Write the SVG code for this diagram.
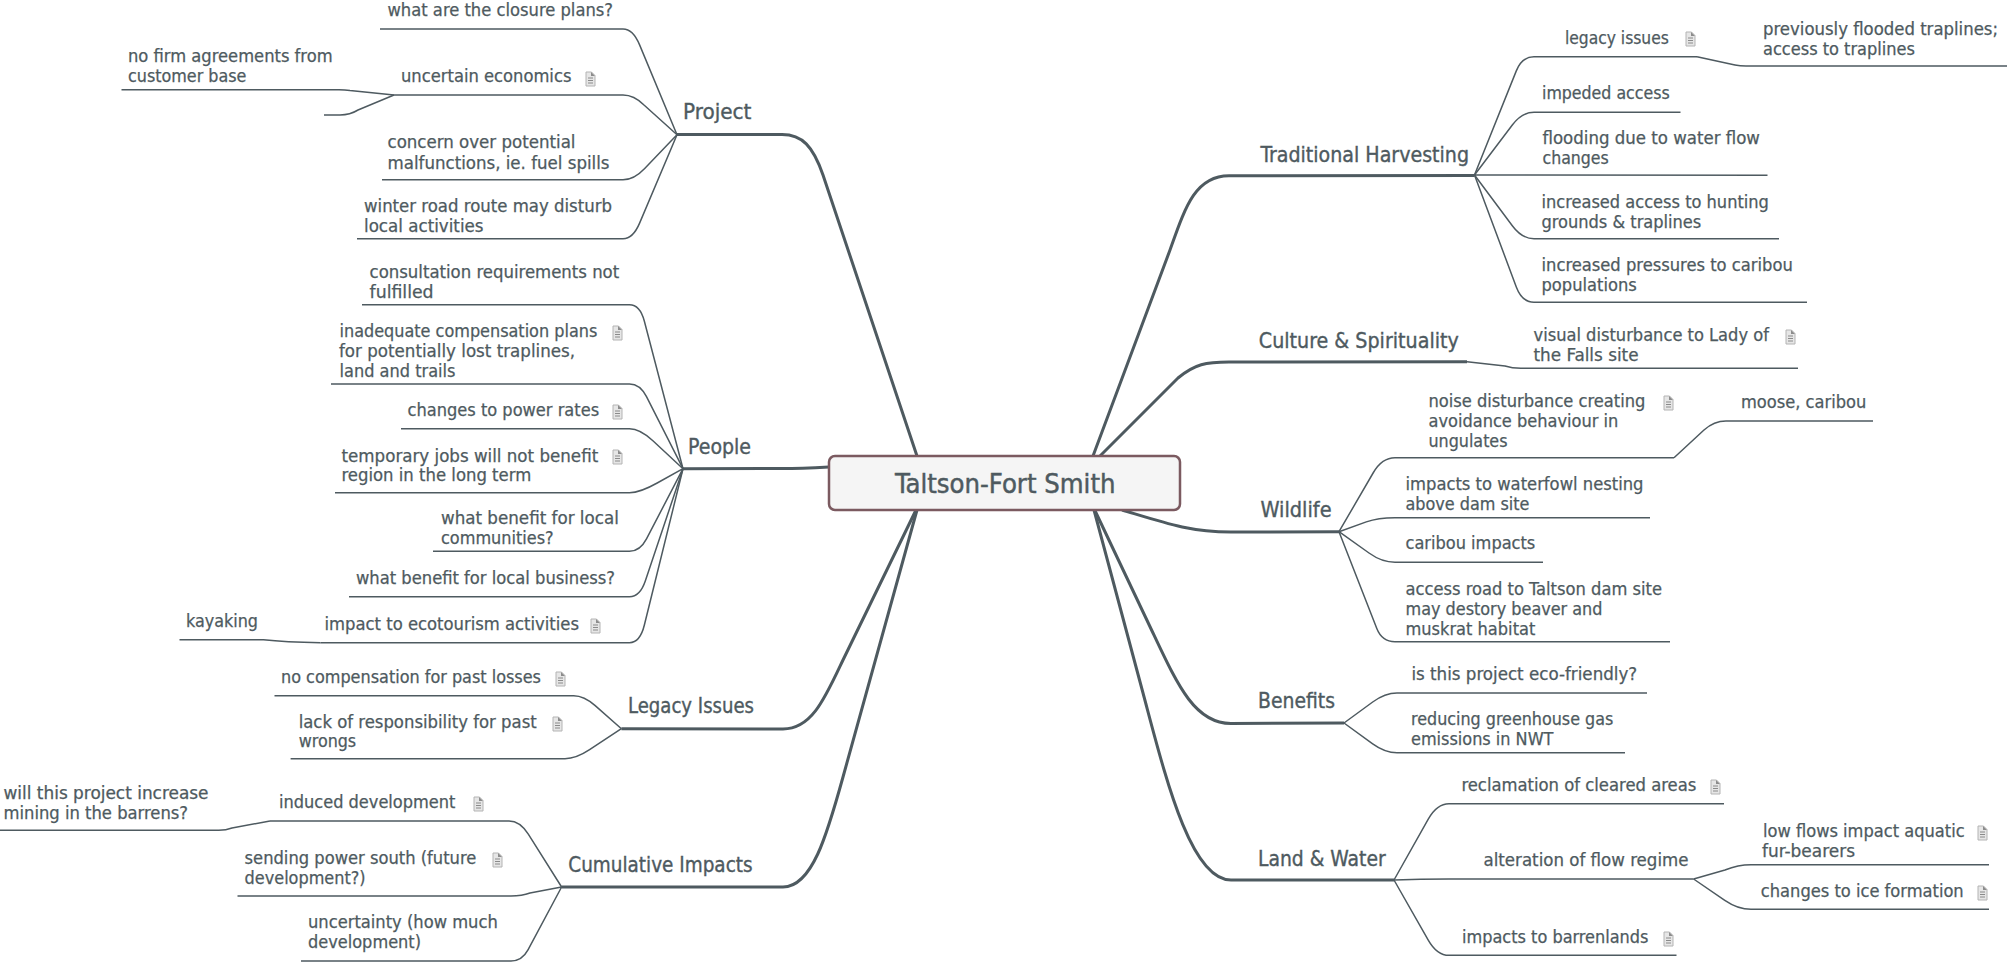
<svg xmlns="http://www.w3.org/2000/svg" width="2007" height="964" viewBox="0 0 2007 964">
<style>
text{font-family:"DejaVu Sans Condensed","DejaVu Sans",sans-serif;font-stretch:condensed;fill:#4e5a60;stroke:#4e5a60;stroke-width:.25}
.t{font-size:18px}
.b{font-size:21px;stroke-width:.35}
.c{font-size:27px;stroke-width:.45}
#connectors path{fill:none;stroke:#4e5a60;stroke-width:1.5;stroke-linejoin:round}
#connectors path.k{stroke-width:3}
</style>
<defs>
<g id="note"><path d="M1 1H6.500L10 4.500V15H1Z" fill="#e6e6e6" stroke="#b4b4b4" stroke-width="1"/><path d="M6 1V5H10" fill="#8c8c8c"/><path d="M3 7H8M3 9.500H8M3 12H8" stroke="#8a8a8a" stroke-width="1"/></g>
</defs>
<rect width="2007" height="964" fill="#ffffff"/>
<g id="connectors">
<path class="k" d="M917 456L823 175C813 146 802 134.500 782 134.500L677 134.500"/>
<path class="k" d="M829 467Q800 468.500 782 468.500L683 468.700"/>
<path class="k" d="M916 510L843 660C825 698 812 729 783 729L621.400 728.700"/>
<path class="k" d="M917 510L843 777C827 835 812 887 783 887L561.600 887"/>
<path class="k" d="M1093 456L1170 250C1185 208 1195 175.700 1229 175.700L1474.500 175.500"/>
<path class="k" d="M1100 456L1178 378C1195 364 1206 362 1229 362L1467 361.700"/>
<path class="k" d="M1122 510C1165 523 1190 532 1231 532L1339 531.700"/>
<path class="k" d="M1094.700 510L1153 633C1178 686 1195 723.500 1231 723.500L1344 723"/>
<path class="k" d="M1094 510L1143 693C1165 775 1190 880 1231 880L1394 880"/>
<path d="M677 134.700L639.600 44.900Q633 29 623 29L380 29"/>
<path d="M677 134.700L644 105Q634 95 623 95L394 95"/>
<path d="M677 134.700L644.700 168.400Q634 179.700 623 179.700L382 179.700"/>
<path d="M677 134.700L639.600 223.100Q633 238.700 623 238.700L357 238.700"/>
<path d="M394 95L350 90.500Q345 89.700 339 89.700L121.500 89.700"/>
<path d="M394 95L358 110Q350 115 340 115L324 115"/>
<path d="M683 468.700L644.300 321Q640 304.700 629.500 304.700L362 304.700"/>
<path d="M683 468.700L646.500 396.700Q640 384 629.500 384L331 384"/>
<path d="M683 468.700L652.900 440.700Q640 428.700 629.500 428.700L401 428.700"/>
<path d="M683 468.700L657.200 483Q640 492.700 629.500 492.700L335 492.700"/>
<path d="M683 468.700L646.500 538.900Q640 551.300 629.500 551.300L433 551.300"/>
<path d="M683 468.700L645.200 581.300Q640 596.700 629.500 596.700L349 596.700"/>
<path d="M683 468.700L644.300 625.300Q640 642.700 629.500 642.700L320.500 642.700"/>
<path d="M320.500 642.700Q285 642 263.400 639.700L179.500 639.700"/>
<path d="M621.400 728.700L595.200 705.600Q584 695.700 573.700 695.700L274.500 695.700"/>
<path d="M621.400 728.700L589.600 749.700Q576 758.700 565 758.700L290.600 758.700"/>
<path d="M561.600 887L528.300 834.200Q520 821 509 821L270 821"/>
<path d="M270 821L232 828Q226 830.300 218.800 830.300L0 830.300"/>
<path d="M561.600 887L530 893Q522 896 511 896L237.500 896"/>
<path d="M561.600 887L528 949.900Q522 961 511 961L301 961"/>
<path d="M1474.500 175L1516.300 70.900Q1522 56.700 1534 56.700L1697 56.700"/>
<path d="M1697 56.700L1735 65Q1740 66 1746 66L2007 66"/>
<path d="M1474.500 175L1512.500 124.800Q1522 112.300 1534 112.300L1680.500 112.300"/>
<path d="M1474.500 175L1767.500 175.300"/>
<path d="M1474.500 175L1512.500 226Q1522 238.700 1534 238.700L1779 238.700"/>
<path d="M1474.500 175L1516.300 287Q1522 302.300 1534 302.300L1807 302.300"/>
<path d="M1467 361.700L1505 366Q1512 368.300 1521 368.300L1798 368.300"/>
<path d="M1339 531.700L1373.400 472.500Q1382 457.700 1395 457.700L1674 457.700"/>
<path d="M1674 457.700L1704 430Q1714 421 1726 421L1873 421"/>
<path d="M1339 531.700L1366.300 521.900Q1378 517.700 1395 517.700L1650 517.700"/>
<path d="M1339 531.700L1369 553Q1382 562.300 1395 562.300L1543 562.300"/>
<path d="M1339 531.700L1376.800 628.500Q1382 641.700 1395 641.700L1670 641.700"/>
<path d="M1344 723L1372.700 702Q1385 693 1397 693L1647 693"/>
<path d="M1344 723L1372.700 743.800Q1385 752.700 1397 752.700L1625 752.700"/>
<path d="M1394 880L1428.400 818.900Q1437 803.700 1449 803.700L1724 803.700"/>
<path d="M1394 880Q1420 879 1449 879L1693.600 879"/>
<path d="M1394 880L1428.400 940.300Q1437 955.300 1449 955.300L1676.500 955.300"/>
<path d="M1693.600 879L1725 870Q1738 864.700 1751 864.700L1989 864.700"/>
<path d="M1693.600 879L1724.800 900.300Q1738 909.300 1751 909.300L1989 909.300"/>
</g>
<g id="root">
<rect x="829" y="456" width="351" height="54" rx="6" fill="#f5f5f5" stroke="#7b5a60" stroke-width="2.500"/>
<text class="c" x="895" y="492.500" textLength="220.500" lengthAdjust="spacingAndGlyphs">Taltson-Fort Smith</text>
</g>
<g id="project"><text class="b" x="683" y="119.300" textLength="68.400" lengthAdjust="spacingAndGlyphs">Project</text></g>
<g id="people"><text class="b" x="688" y="454" textLength="63" lengthAdjust="spacingAndGlyphs">People</text></g>
<g id="legacy-issues"><text class="b" x="628" y="713.300" textLength="126" lengthAdjust="spacingAndGlyphs">Legacy Issues</text></g>
<g id="cumulative-impacts"><text class="b" x="568.300" y="872.300" textLength="184.300" lengthAdjust="spacingAndGlyphs">Cumulative Impacts</text></g>
<g id="traditional-harvesting"><text class="b" x="1260.400" y="161.700" textLength="208.600" lengthAdjust="spacingAndGlyphs">Traditional Harvesting</text></g>
<g id="culture-spirituality"><text class="b" x="1258.800" y="347.700" textLength="200" lengthAdjust="spacingAndGlyphs">Culture &amp; Spirituality</text></g>
<g id="wildlife"><text class="b" x="1260.400" y="516.700" textLength="71.200" lengthAdjust="spacingAndGlyphs">Wildlife</text></g>
<g id="benefits"><text class="b" x="1258" y="708.300" textLength="77" lengthAdjust="spacingAndGlyphs">Benefits</text></g>
<g id="land-water"><text class="b" x="1258" y="865.700" textLength="127.700" lengthAdjust="spacingAndGlyphs">Land &amp; Water</text></g>
<g id="n1"><text class="t" x="387.500" y="16" textLength="225.500" lengthAdjust="spacingAndGlyphs">what are the closure plans?</text></g>
<g id="n2"><text class="t" x="401" y="82" textLength="170.400" lengthAdjust="spacingAndGlyphs">uncertain economics</text><use href="#note" x="585" y="71"/></g>
<g id="n3"><text class="t" x="128" y="62" textLength="204.600" lengthAdjust="spacingAndGlyphs">no firm agreements from</text><text class="t" x="128" y="82" textLength="118.400" lengthAdjust="spacingAndGlyphs">customer base</text></g>
<g id="n4"><text class="t" x="387.500" y="148" textLength="188" lengthAdjust="spacingAndGlyphs">concern over potential</text><text class="t" x="387.500" y="169" textLength="222" lengthAdjust="spacingAndGlyphs">malfunctions, ie. fuel spills</text></g>
<g id="n5"><text class="t" x="364" y="212" textLength="248" lengthAdjust="spacingAndGlyphs">winter road route may disturb</text><text class="t" x="364" y="232" textLength="119.500" lengthAdjust="spacingAndGlyphs">local activities</text></g>
<g id="n6"><text class="t" x="369.600" y="278.300" textLength="249.600" lengthAdjust="spacingAndGlyphs">consultation requirements not</text><text class="t" x="369.600" y="298" textLength="64" lengthAdjust="spacingAndGlyphs">fulfilled</text></g>
<g id="n7"><text class="t" x="339.500" y="336.700" textLength="257.800" lengthAdjust="spacingAndGlyphs">inadequate compensation plans</text><text class="t" x="339" y="357.300" textLength="236" lengthAdjust="spacingAndGlyphs">for potentially lost traplines,</text><text class="t" x="339.500" y="377.300" textLength="116" lengthAdjust="spacingAndGlyphs">land and trails</text><use href="#note" x="612" y="325"/></g>
<g id="n8"><text class="t" x="407.600" y="416" textLength="191.500" lengthAdjust="spacingAndGlyphs">changes to power rates</text><use href="#note" x="612" y="404"/></g>
<g id="n9"><text class="t" x="341.500" y="461.700" textLength="256.700" lengthAdjust="spacingAndGlyphs">temporary jobs will not benefit</text><text class="t" x="341.500" y="481" textLength="189.700" lengthAdjust="spacingAndGlyphs">region in the long term</text><use href="#note" x="612" y="449"/></g>
<g id="n10"><text class="t" x="441" y="524.300" textLength="177.800" lengthAdjust="spacingAndGlyphs">what benefit for local</text><text class="t" x="441" y="544" textLength="112.600" lengthAdjust="spacingAndGlyphs">communities?</text></g>
<g id="n11"><text class="t" x="356" y="583.700" textLength="259" lengthAdjust="spacingAndGlyphs">what benefit for local business?</text></g>
<g id="n12"><text class="t" x="324.500" y="630" textLength="254.500" lengthAdjust="spacingAndGlyphs">impact to ecotourism activities</text><use href="#note" x="590" y="618"/></g>
<g id="n13"><text class="t" x="186" y="626.700" textLength="72" lengthAdjust="spacingAndGlyphs">kayaking</text></g>
<g id="n14"><text class="t" x="281" y="682.700" textLength="260" lengthAdjust="spacingAndGlyphs">no compensation for past losses</text><use href="#note" x="555" y="671"/></g>
<g id="n15"><text class="t" x="298.700" y="727.700" textLength="238" lengthAdjust="spacingAndGlyphs">lack of responsibility for past</text><text class="t" x="298.700" y="747.300" textLength="57.500" lengthAdjust="spacingAndGlyphs">wrongs</text><use href="#note" x="552" y="716"/></g>
<g id="n16"><text class="t" x="279" y="807.700" textLength="176.400" lengthAdjust="spacingAndGlyphs">induced development</text><use href="#note" x="473" y="796"/></g>
<g id="n17"><text class="t" x="3.500" y="799" textLength="205" lengthAdjust="spacingAndGlyphs">will this project increase</text><text class="t" x="3.500" y="819" textLength="184.500" lengthAdjust="spacingAndGlyphs">mining in the barrens?</text></g>
<g id="n18"><text class="t" x="244.600" y="864" textLength="231.700" lengthAdjust="spacingAndGlyphs">sending power south (future</text><text class="t" x="244.600" y="884.300" textLength="121" lengthAdjust="spacingAndGlyphs">development?)</text><use href="#note" x="492" y="852"/></g>
<g id="n19"><text class="t" x="308" y="928.300" textLength="189.800" lengthAdjust="spacingAndGlyphs">uncertainty (how much</text><text class="t" x="308" y="948.300" textLength="113" lengthAdjust="spacingAndGlyphs">development)</text></g>
<g id="n20"><text class="t" x="1565" y="44" textLength="103.800" lengthAdjust="spacingAndGlyphs">legacy issues</text><use href="#note" x="1685" y="31"/></g>
<g id="n21"><text class="t" x="1763" y="34.700" textLength="235" lengthAdjust="spacingAndGlyphs">previously flooded traplines;</text><text class="t" x="1763" y="54.700" textLength="152" lengthAdjust="spacingAndGlyphs">access to traplines</text></g>
<g id="n22"><text class="t" x="1542" y="98.700" textLength="127.700" lengthAdjust="spacingAndGlyphs">impeded access</text></g>
<g id="n23"><text class="t" x="1542.500" y="144.300" textLength="217.400" lengthAdjust="spacingAndGlyphs">flooding due to water flow</text><text class="t" x="1542.500" y="164.300" textLength="66.300" lengthAdjust="spacingAndGlyphs">changes</text></g>
<g id="n24"><text class="t" x="1541.500" y="208" textLength="227.400" lengthAdjust="spacingAndGlyphs">increased access to hunting</text><text class="t" x="1541.500" y="228" textLength="159.800" lengthAdjust="spacingAndGlyphs">grounds &amp; traplines</text></g>
<g id="n25"><text class="t" x="1541.500" y="270.700" textLength="251.300" lengthAdjust="spacingAndGlyphs">increased pressures to caribou</text><text class="t" x="1541.500" y="290.700" textLength="95.300" lengthAdjust="spacingAndGlyphs">populations</text></g>
<g id="n26"><text class="t" x="1533.500" y="341" textLength="235.400" lengthAdjust="spacingAndGlyphs">visual disturbance to Lady of</text><text class="t" x="1533.500" y="360.700" textLength="105" lengthAdjust="spacingAndGlyphs">the Falls site</text><use href="#note" x="1785" y="329"/></g>
<g id="n27"><text class="t" x="1428.500" y="407.300" textLength="216.900" lengthAdjust="spacingAndGlyphs">noise disturbance creating</text><text class="t" x="1428.500" y="427" textLength="189.800" lengthAdjust="spacingAndGlyphs">avoidance behaviour in</text><text class="t" x="1428.500" y="446.700" textLength="79" lengthAdjust="spacingAndGlyphs">ungulates</text><use href="#note" x="1663" y="395"/></g>
<g id="n28"><text class="t" x="1741" y="408.300" textLength="125.300" lengthAdjust="spacingAndGlyphs">moose, caribou</text></g>
<g id="n29"><text class="t" x="1405.500" y="490" textLength="238" lengthAdjust="spacingAndGlyphs">impacts to waterfowl nesting</text><text class="t" x="1405.500" y="510" textLength="124" lengthAdjust="spacingAndGlyphs">above dam site</text></g>
<g id="n30"><text class="t" x="1405.500" y="549.300" textLength="129.800" lengthAdjust="spacingAndGlyphs">caribou impacts</text></g>
<g id="n31"><text class="t" x="1405.500" y="595" textLength="256.500" lengthAdjust="spacingAndGlyphs">access road to Taltson dam site</text><text class="t" x="1405.500" y="615" textLength="197" lengthAdjust="spacingAndGlyphs">may destory beaver and</text><text class="t" x="1405.500" y="635" textLength="129.800" lengthAdjust="spacingAndGlyphs">muskrat habitat</text></g>
<g id="n32"><text class="t" x="1411.400" y="680" textLength="225.800" lengthAdjust="spacingAndGlyphs">is this project eco-friendly?</text></g>
<g id="n33"><text class="t" x="1411" y="725" textLength="202.300" lengthAdjust="spacingAndGlyphs">reducing greenhouse gas</text><text class="t" x="1411" y="745" textLength="142.400" lengthAdjust="spacingAndGlyphs">emissions in NWT</text></g>
<g id="n34"><text class="t" x="1461.400" y="790.700" textLength="234.900" lengthAdjust="spacingAndGlyphs">reclamation of cleared areas</text><use href="#note" x="1710" y="779"/></g>
<g id="n35"><text class="t" x="1483.500" y="866" textLength="205" lengthAdjust="spacingAndGlyphs">alteration of flow regime</text></g>
<g id="n36"><text class="t" x="1763" y="837.300" textLength="201.600" lengthAdjust="spacingAndGlyphs">low flows impact aquatic</text><text class="t" x="1762" y="857.300" textLength="93" lengthAdjust="spacingAndGlyphs">fur-bearers</text><use href="#note" x="1977" y="825"/></g>
<g id="n37"><text class="t" x="1760.800" y="896.700" textLength="202.900" lengthAdjust="spacingAndGlyphs">changes to ice formation</text><use href="#note" x="1977" y="885"/></g>
<g id="n38"><text class="t" x="1462" y="942.700" textLength="186.500" lengthAdjust="spacingAndGlyphs">impacts to barrenlands</text><use href="#note" x="1663" y="931"/></g>
</svg>
